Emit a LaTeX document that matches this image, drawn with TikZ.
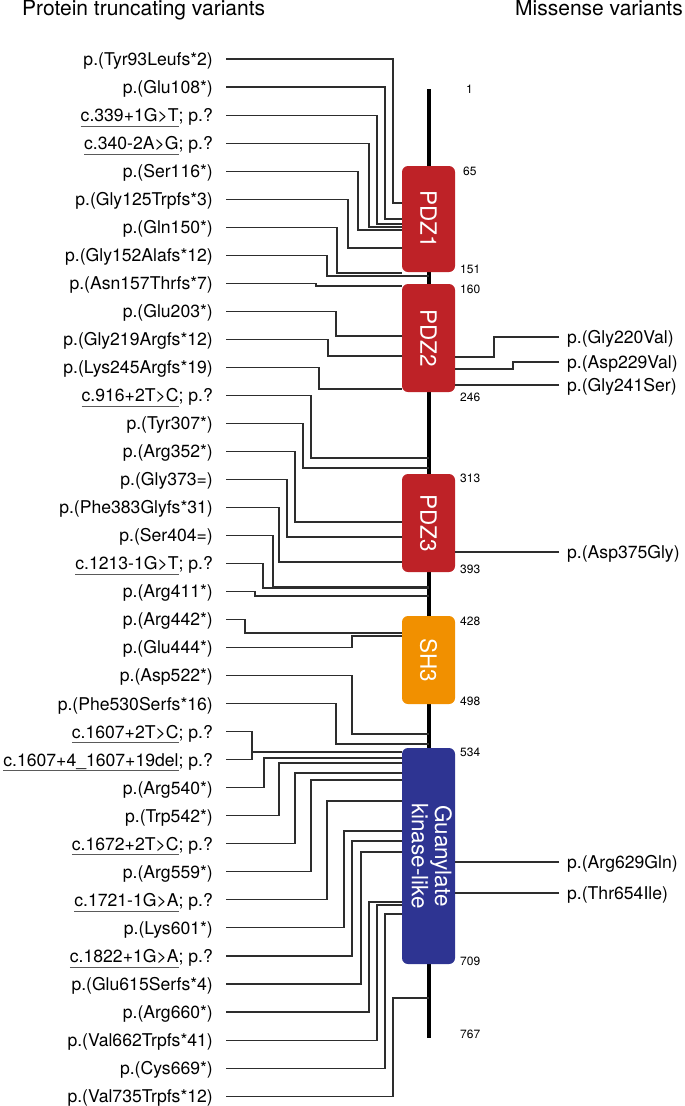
\documentclass[tikz,border=0pt]{standalone}
\usepackage{fontspec}
\usepackage{graphicx}
\setmainfont{TeX Gyre Heros}
\definecolor{pdz}{RGB}{190,34,39}
\definecolor{shc}{RGB}{241,144,0}
\definecolor{gkc}{RGB}{46,52,146}
\definecolor{conncol}{RGB}{45,45,45}
\definecolor{ulcol}{RGB}{90,90,90}
\newcommand\ulx[1]{\setbox0=\hbox{#1}\leavevmode\rlap{\raisebox{-5.2pt}{\textcolor{ulcol}{\rule{\wd0}{0.9pt}}}}\box0}
\begin{document}
\begin{tikzpicture}[x=1pt,y=-1pt,
  lab/.style={anchor=east, inner xsep=13pt, inner ysep=0pt, text height=12.6pt, text depth=0pt, font=\fontsize{17.6}{20}\selectfont},
  rlab/.style={anchor=west, inner xsep=8pt, inner ysep=0pt, text height=12.6pt, text depth=0pt, font=\fontsize{17.6}{20}\selectfont},
  conn/.style={draw=conncol, line width=1.1pt},
  dom/.style={rounded corners=6pt, minimum width=53pt, inner sep=0pt, text=white, font=\fontsize{22.5}{23}\selectfont},
  num/.style={anchor=west, inner sep=0pt, font=\fontsize{12}{13}\selectfont},
  ttl/.style={inner sep=0pt, font=\fontsize{21}{24}\selectfont},
]
\useasboundingbox (0,0) rectangle (685,1106);
\node[ttl, anchor=base west] (t1) at (22,15.5) {Protein truncating variants};
\node[ttl, anchor=base east] (t2) at (683,15.5) {Missense variants};

\coordinate (ax) at (428.5,89);
\coordinate (axend) at (428.5,1038);
\draw[line width=4pt] (ax) -- (axend);

\node[dom, fill=pdz, minimum height=106pt] (PDZ1) at (428.5,219) {\rotatebox{-90}{PDZ1}};
\node[dom, fill=pdz, minimum height=108pt] (PDZ2) at (428.5,338) {\rotatebox{-90}{PDZ2}};
\node[dom, fill=pdz, minimum height=98pt] (PDZ3) at (428.5,523) {\rotatebox{-90}{PDZ3}};
\node[dom, fill=shc, minimum height=88pt] (SH3) at (428.5,660) {\rotatebox{-90}{SH3}};
\node[dom, fill=gkc, minimum height=216pt] (GK) at (428.5,856) {\rotatebox{-90}{\begin{tabular}{@{}c@{}}Guanylate\\kinase-like\end{tabular}}};

\node[num, anchor=west] (n1) at (466,89) {1};
\node[num] (n65) at (463,171) {65};
\node[num] (n151) at (460,269) {151};
\node[num] (n160) at (460,289) {160};
\node[num] (n246) at (460,397) {246};
\node[num] (n313) at (460,478) {313};
\node[num] (n393) at (460,569) {393};
\node[num] (n428) at (460,621) {428};
\node[num] (n498) at (460,701) {498};
\node[num] (n534) at (460,752) {534};
\node[num] (n709) at (460,961) {709};
\node[num] (n767) at (460,1034) {767};

\foreach \i/\txt/\vx/\ty/\ex in {
1/{p.(Tyr93Leufs*2)}/393/203/PDZ1.west,
2/{p.(Glu108*)}/385/219/PDZ1.west,
3/{\ulx{c.339+1G>T}; p.?}/377/224/PDZ1.west,
4/{\ulx{c.340-2A>G}; p.?}/369/227/PDZ1.west,
5/{p.(Ser116*)}/358/230/PDZ1.west,
6/{p.(Gly125Trpfs*3)}/348/248/PDZ1.west,
7/{p.(Gln150*)}/337/273/PDZ1.west,
8/{p.(Gly152Alafs*12)}/327/276/ax,
9/{p.(Asn157Thrfs*7)}/316/286/PDZ2.west,
10/{p.(Glu203*)}/336/336/PDZ2.west,
11/{p.(Gly219Argfs*12)}/328/356/PDZ2.west,
12/{p.(Lys245Argfs*19)}/319/389/PDZ2.west,
13/{\ulx{c.916+2T>C}; p.?}/311/458/ax,
14/{p.(Tyr307*)}/303/468/ax,
15/{p.(Arg352*)}/295/522/PDZ3.west,
16/{p.(Gly373=)}/287/537/PDZ3.west,
17/{p.(Phe383Glyfs*31)}/279/562/PDZ3.west,
18/{p.(Ser404=)}/273/587/ax,
19/{\ulx{c.1213-1G>T}; p.?}/263/588/ax,
20/{p.(Arg411*)}/255/596/ax,
21/{p.(Arg442*)}/245/633/SH3.west,
22/{p.(Glu444*)}/352/636/SH3.west,
23/{p.(Asp522*)}/352/734/ax,
24/{p.(Phe530Serfs*16)}/336/744/ax,
25/{\ulx{c.1607+2T>C}; p.?}/252/752/GK.west,
26/{\ulx{c.1607+4\_1607+19del}; p.?}/252/752/GK.west,
27/{p.(Arg540*)}/264/758/GK.west,
28/{p.(Trp542*)}/279/763/GK.west,
29/{\ulx{c.1672+2T>C}; p.?}/295/773/GK.west,
30/{p.(Arg559*)}/311/780/GK.west,
31/{\ulx{c.1721-1G>A}; p.?}/327/801/GK.west,
32/{p.(Lys601*)}/344/831/GK.west,
33/{\ulx{c.1822+1G>A}; p.?}/352/841/GK.west,
34/{p.(Glu615Serfs*4)}/361/852/GK.west,
35/{p.(Arg660*)}/369/902/GK.west,
36/{p.(Val662Trpfs*41)}/377/905/GK.west,
37/{p.(Cys669*)}/385/914/GK.west,
38/{p.(Val735Trpfs*12)}/393/998/ax}{
  \node[lab] (L\i) at (226,{59+28.03*(\i-1)}) {\txt};
  \coordinate (T\i) at (\vx,\ty);
  \draw[conn] (L\i.east) -| (T\i) -- (T\i -| \ex);
}

\foreach \j/\txt/\ry/\vx/\ty/\bx in {
1/{p.(Gly220Val)}/337/494/357/PDZ2.east,
2/{p.(Asp229Val)}/362/513/369/PDZ2.east,
3/{p.(Gly241Ser)}/385/520/385/PDZ2.east,
4/{p.(Asp375Gly)}/552/520/552/PDZ3.east,
5/{p.(Arg629Gln)}/862/520/862/GK.east,
6/{p.(Thr654Ile)}/893/520/893/GK.east}{
  \node[rlab] (R\j) at (559,\ry) {\txt};
  \coordinate (U\j) at (\vx,\ty);
  \draw[conn] (R\j.west) -| (U\j) -- (U\j -| \bx);
}
\end{tikzpicture}
\end{document}
